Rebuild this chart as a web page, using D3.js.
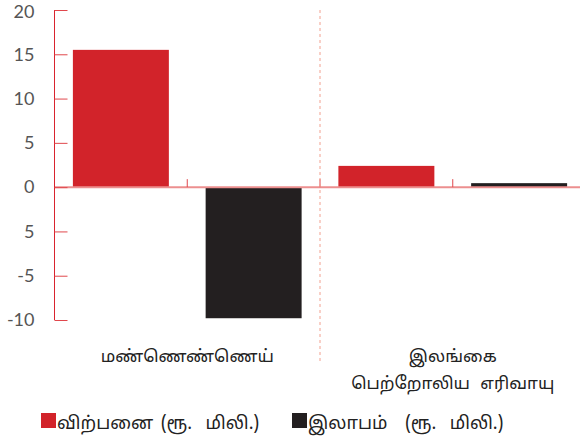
<!DOCTYPE html>
<html><head><meta charset="utf-8">
<script src="https://cdn.jsdelivr.net/npm/d3@7"></script>
<style>body{margin:0;background:#fff;}svg{display:block;}</style>
</head><body>
<script>
const categories = ["மண்ணெண்ணெய்", "இலங்கை|பெற்றோலிய எரிவாயு"];
const seriesNames = ["விற்பனை (ரூ. மிலி.)", "இலாபம் (ரூ. மிலி.)"];
const salesValues = [15.5, 2.4];
const profitValues = [-14.8, 0.45];
const tickValues = [20, 15, 10, 5, 0, -5, -10, -15];
const tickLabels = ["20", "15", "10", "5", "0", "5", "-5", "-10"];
const colors = ["#d2232a", "#231f20"];

const W = 582, H = 443;
const svg = d3.select("body").append("svg").attr("width", W).attr("height", H);

const y = d3.scaleLinear().domain([-15, 20]).range([320, 10]);
const x0 = d3.scaleBand().domain(categories).range([54.5, 585.5]).padding(0);
const x1 = d3.scaleBand().domain([0, 1]).range([0, x0.bandwidth()]).paddingInner(0.277).paddingOuter(0.1385);

const data = categories.map((c, i) => ({cat: c, vals: [salesValues[i], profitValues[i]]}));

// bars
const g = svg.append("g");
data.forEach(d => {
  d.vals.forEach((v, j) => {
    g.append("rect")
      .attr("x", x0(d.cat) + x1(j))
      .attr("width", x1.bandwidth())
      .attr("y", y(Math.max(0, v)))
      .attr("height", Math.abs(y(v) - y(0)))
      .attr("fill", colors[j]);
  });
});

// zero line
svg.append("line").attr("x1", 54).attr("x2", 580).attr("y1", y(0)).attr("y2", y(0))
  .attr("stroke", "#ec8f8f").attr("stroke-width", 2);

// small ticks on zero line at sub-band boundaries
const bounds = [];
categories.forEach((c, i) => { bounds.push(x0(c) + x0.bandwidth() / 2); if (i < categories.length - 1) bounds.push(x0(c) + x0.bandwidth()); });
bounds.forEach(b => {
  svg.append("line").attr("x1", b).attr("x2", b).attr("y1", y(0) - 8).attr("y2", y(0))
    .attr("stroke", "#e0474c").attr("stroke-width", 1);
});

// separator dashed line
categories.slice(0, -1).forEach(c => {
  const xs = x0(c) + x0.bandwidth();
  svg.append("line").attr("x1", xs).attr("x2", xs).attr("y1", 10).attr("y2", 362)
    .attr("stroke", "#f2a08f").attr("stroke-width", 1).attr("stroke-dasharray", "3,3");
});

// y axis
const yAxis = d3.axisRight(y).tickValues(tickValues).tickSize(13)
  .tickFormat((d, i) => tickLabels[i]);
const ya = svg.append("g").attr("transform", "translate(54.5,0)").call(yAxis);
ya.select(".domain").attr("stroke", "#d9232e").attr("d", `M0,${y(20)}V${y(-15)}`);
ya.selectAll(".tick line").attr("stroke", "#e0474c");
ya.selectAll(".tick text").attr("x", -20).attr("text-anchor", "end")
  .attr("fill", "#555").attr("font-family", "Lato, sans-serif").attr("font-size", 18)
  .attr("dy", (d, i) => i === 0 ? "0.4em" : "0.32em");

// category labels
categories.forEach(c => {
  const cx = x0(c) + x0.bandwidth() / 2;
  const lines = c.split("|");
  lines.forEach((l, k) => {
    svg.append("text").attr("x", cx).attr("y", 362 + k * 27)
      .attr("text-anchor", "middle").attr("font-size", 17)
      .attr("font-family", "'Noto Sans Tamil', 'Noto Sans', sans-serif").attr("fill", "#222")
      .attr("word-spacing", k === 1 ? 6 : 0)
      .text(l);
  });
});

// legend
const legX = [41, 292];
const legWordSpacing = [[3, 9], [13, 9]];
seriesNames.forEach((s, j) => {
  svg.append("rect").attr("x", legX[j]).attr("y", 413).attr("width", 15).attr("height", 15).attr("fill", colors[j]);
  const t = svg.append("text").attr("x", legX[j] + 16).attr("y", 429)
    .attr("font-size", 18).attr("font-family", "'Noto Sans Tamil', 'Noto Sans', sans-serif").attr("fill", "#222");
  const words = s.split(" ");
  words.forEach((w, k) => {
    t.append("tspan").attr("dx", k === 0 ? 0 : legWordSpacing[j][k - 1] + 4.5).text(w);
  });
});
</script>
</body></html>
